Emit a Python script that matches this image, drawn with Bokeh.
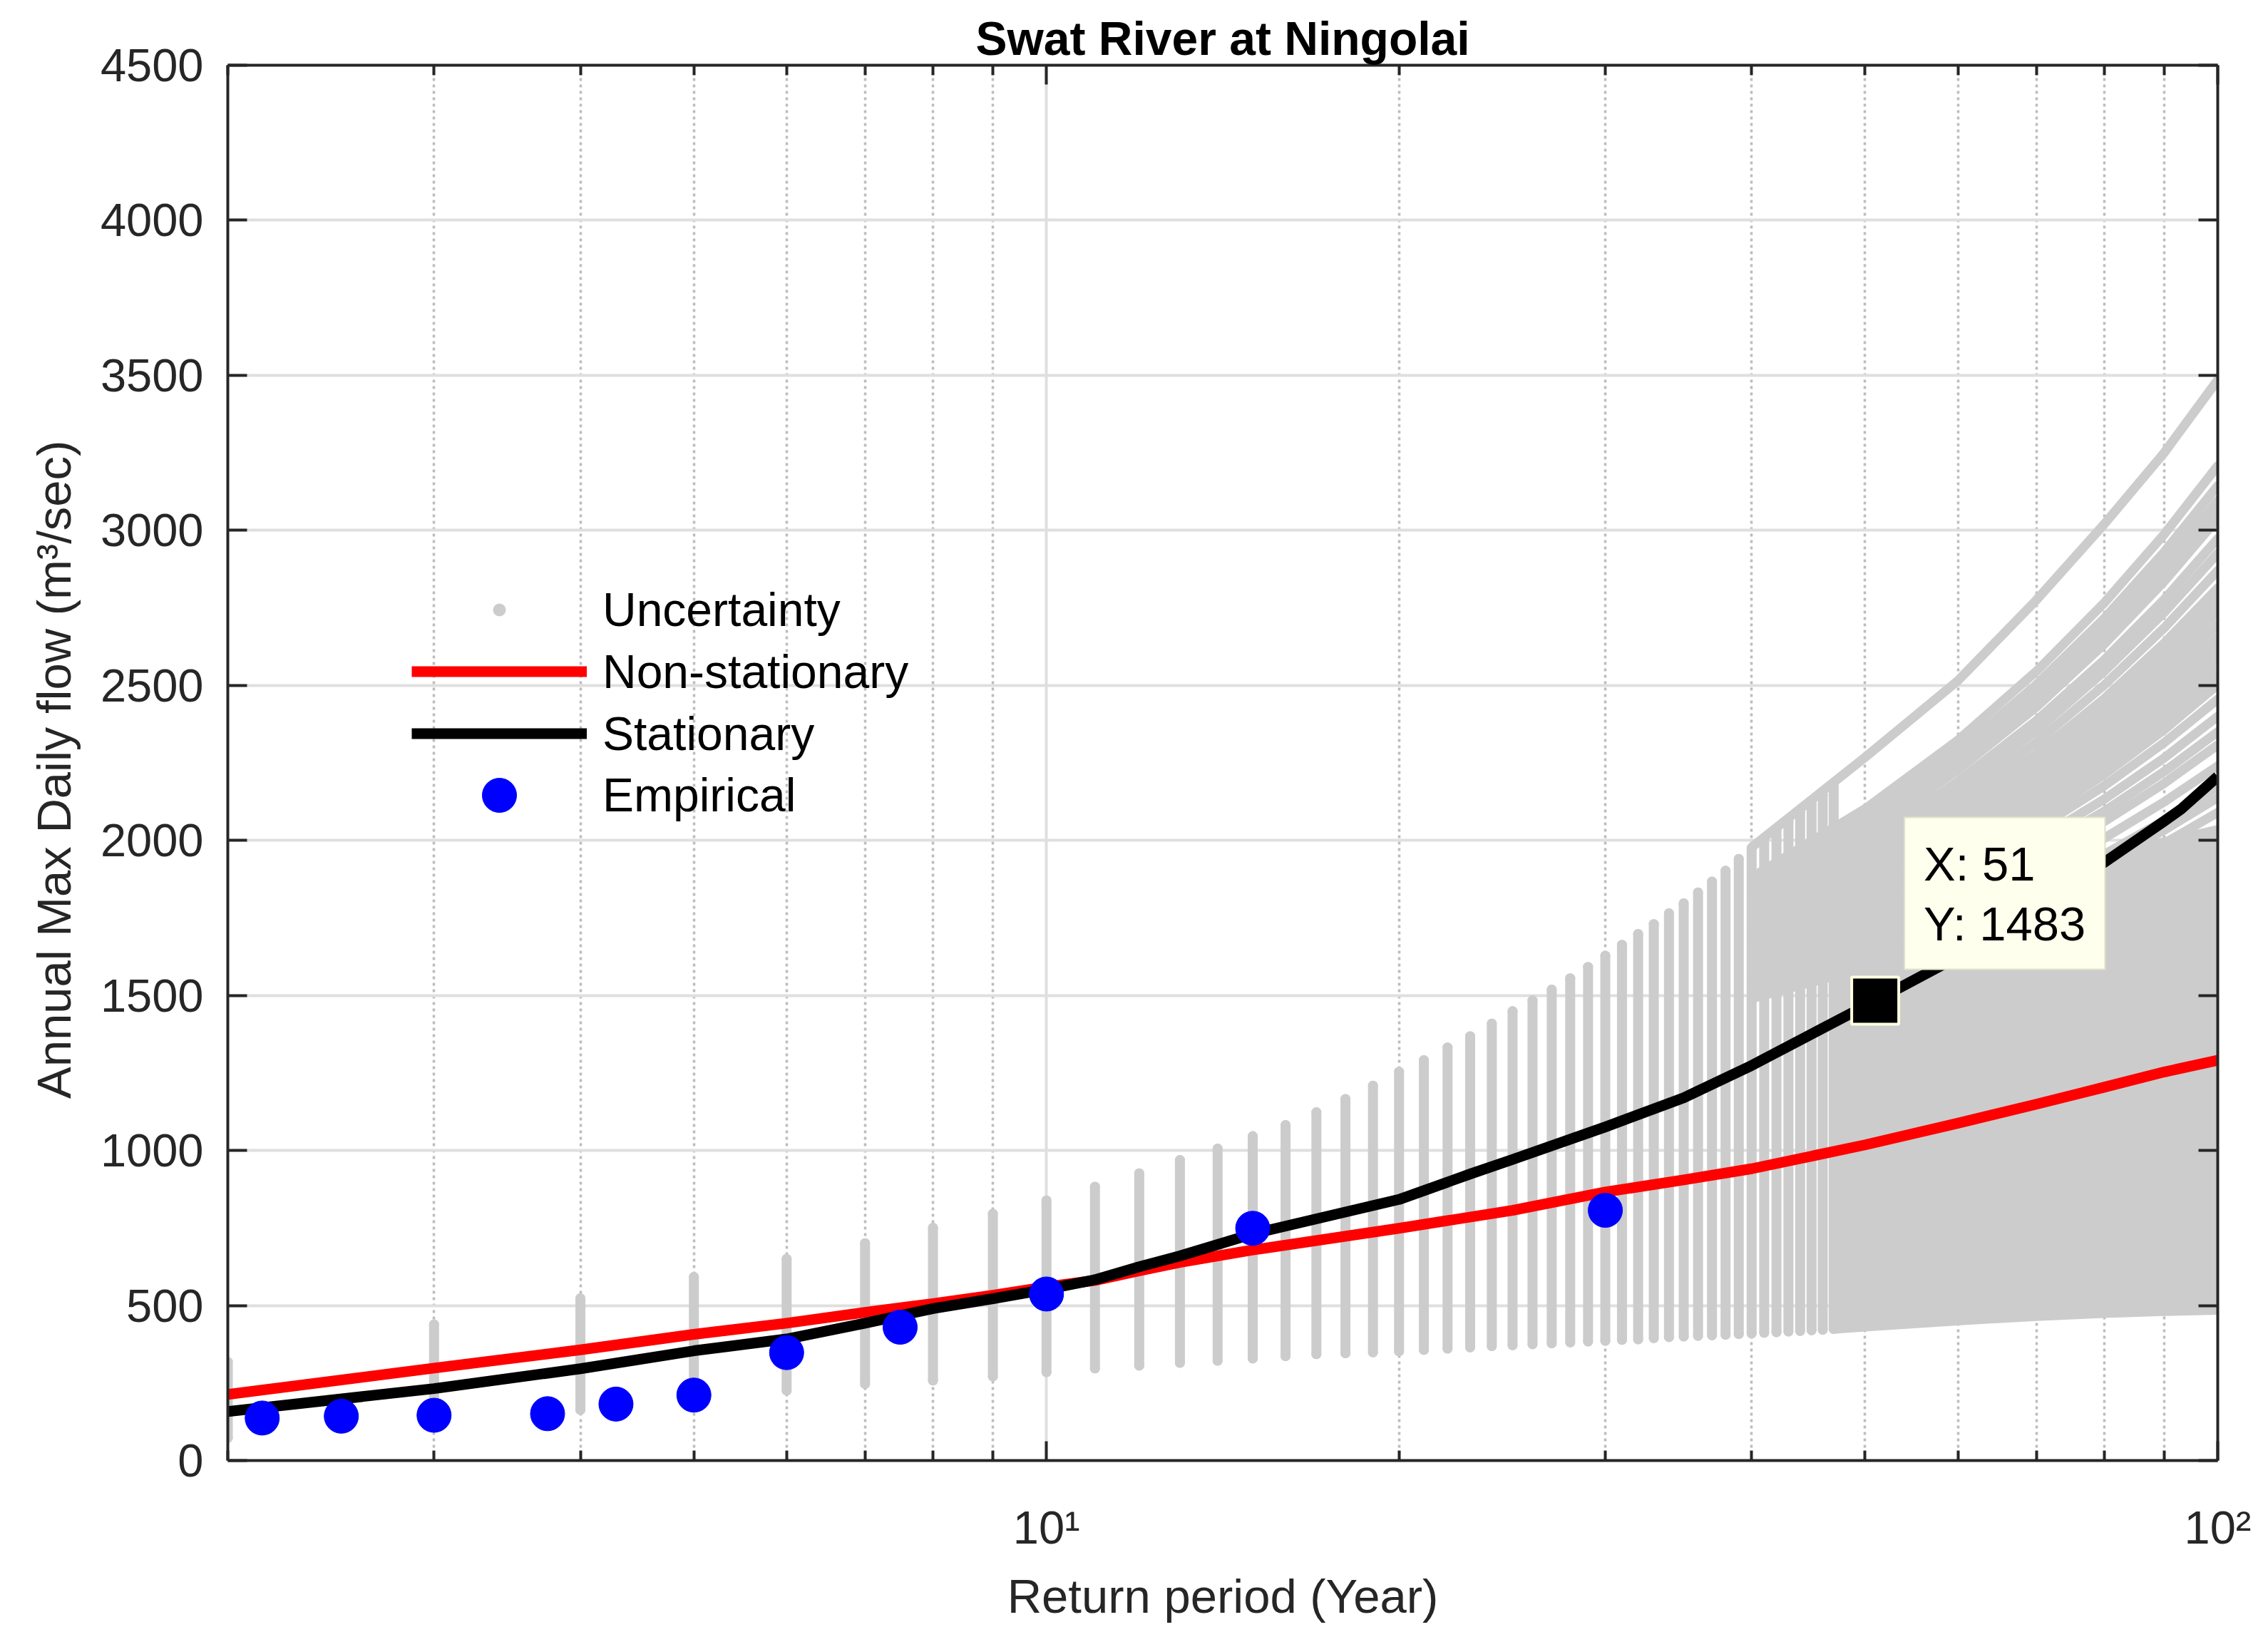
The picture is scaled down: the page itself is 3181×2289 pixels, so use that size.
from bokeh.plotting import figure
from bokeh.models import Range1d, FixedTicker, LogAxis, LinearAxis, Legend, LegendItem, Label
from bokeh.embed import file_html
from bokeh.resources import INLINE

FONT = "Liberation Sans"
AX = "#262626"
GRAY = "#CCCCCC"

title_text = "Swat River at Ningolai"
x_label = "Return period (Year)"
y_label = "Annual Max  Daily flow (m³/sec)"

# axis ticks
x_major = [10, 100]
x_minor = [2, 3, 4, 5, 6, 7, 8, 9, 20, 30, 40, 50, 60, 70, 80, 90]
x_tick_text = {10: "10¹", 100: "10²"}
y_major = [0, 500, 1000, 1500, 2000, 2500, 3000, 3500, 4000, 4500]

# Empirical (plotting positions)
emp_T = [2.14, 2.5, 3.0, 3.75, 4.29, 5.0, 6.0, 7.5, 10.0, 15.0, 30.0]
emp_Q = [137, 143, 146, 151, 182, 211, 348, 430, 537, 749, 807]

# Stationary fit
sta_T = [2, 3, 4, 5, 6, 7, 8, 9, 10, 11, 12, 13, 15, 20, 23, 25, 30, 35, 40, 51, 60, 70, 80, 90, 93, 100]
sta_Q = [158, 232, 296, 354, 392, 443, 490, 522, 552, 583, 625, 660, 731, 842, 924, 971, 1076, 1170, 1274, 1483, 1625, 1796, 1929, 2062, 2100, 2206]

# Non-stationary fit
ns_T = [2, 3, 4, 5, 6, 7, 8, 9, 10, 11, 12, 13, 15, 20, 25, 30, 35, 40, 50, 60, 70, 80, 90, 100]
ns_Q = [213, 298, 357, 407, 443, 478, 506, 533, 560, 581, 612, 639, 679, 749, 807, 866, 905, 941, 1018, 1088, 1149, 1204, 1253, 1291]

# Uncertainty: spread of the samples at each return period (2..47)
unc_T = list(range(2, 48))
unc_lo = [73, 120, 163, 200, 226, 247, 258, 271, 285, 297, 306, 315, 322, 329, 337, 343,
          346, 349, 352, 357, 361, 365, 369, 372, 375, 378, 381, 384, 386, 389, 391, 395,
          398, 400, 402, 404, 406, 408, 410, 412, 414, 416, 418, 420, 422, 424]
unc_hi = [318, 439, 523, 592, 650, 701, 751, 796, 839, 883, 926, 969, 1006, 1046, 1082, 1123,
          1166, 1209, 1254, 1291, 1332, 1368, 1409, 1449, 1484, 1519, 1555, 1592, 1628, 1663,
          1698, 1730, 1765, 1797, 1832, 1867, 1902, 1940, 1975, 2005, 2034, 2062, 2091, 2119,
          2147, 2175]

# Uncertainty: dense band for long return periods
tail_T = [47, 50, 60, 70, 80, 90, 100]
tail_lo = [409, 416, 436, 450, 460, 466, 470]
tail_hi = [1760, 1790, 1860, 1920, 1970, 2010, 2050]

# Uncertainty: individual sample curves fanning out above the dense band
fan_T = [40, 50, 60, 70, 80, 90, 100]
fan_top = [1978, 2268, 2515, 2775, 3020, 3250, 3485]
fan_Q = [
    [1881, 2102, 2323, 2545, 2766, 2987, 3208],
    [1859, 2073, 2287, 2502, 2716, 2930, 3144],
    [1842, 2051, 2260, 2469, 2678, 2887, 3096],
    [1832, 2038, 2243, 2449, 2655, 2861, 3067],
    [1822, 2025, 2227, 2430, 2633, 2835, 3038],
    [1799, 1995, 2190, 2386, 2582, 2777, 2973],
    [1782, 1973, 2163, 2354, 2545, 2735, 2926],
    [1763, 1947, 2132, 2316, 2501, 2685, 2870],
    [1743, 1922, 2100, 2279, 2457, 2636, 2814],
    [1730, 1904, 2079, 2253, 2427, 2602, 2776],
    [1717, 1887, 2057, 2228, 2398, 2568, 2738],
    [1702, 1868, 2033, 2199, 2365, 2530, 2696],
    [1688, 1849, 2010, 2172, 2333, 2494, 2655],
    [1674, 1831, 1988, 2146, 2303, 2460, 2617],
    [1661, 1814, 1967, 2120, 2273, 2426, 2579],
    [1647, 1796, 1945, 2094, 2242, 2391, 2540],
    [1634, 1779, 1923, 2068, 2213, 2357, 2502],
    [1618, 1757, 1897, 2036, 2176, 2315, 2455],
    [1598, 1732, 1865, 1999, 2133, 2266, 2400],
    [1581, 1709, 1837, 1966, 2094, 2222, 2350],
    [1566, 1690, 1813, 1937, 2061, 2184, 2308],
    [1542, 1658, 1775, 1891, 2007, 2124, 2240],
    [1519, 1628, 1737, 1846, 1955, 2064, 2173],
    [1507, 1612, 1717, 1823, 1928, 2033, 2138],
    [1490, 1590, 1690, 1790, 1890, 1990, 2090],
]

# Data tip
dt_x = 51
dt_y = 1483

p = figure(x_axis_type="log", x_range=Range1d(2, 100), y_range=Range1d(0, 4500),
           frame_width=2791, frame_height=1957,
           min_border_left=319, min_border_right=55, min_border_top=91, min_border_bottom=225,
           output_backend="svg", toolbar_location=None,
           background_fill_color="white", border_fill_color="white")
p.outline_line_color = None
bottom_ax = p.below[0]
left_ax = p.left[0]

# ---- uncertainty cloud
r_cols = p.segment(x0=unc_T, y0=unc_lo, x1=unc_T, y1=unc_hi, line_color=GRAY,
                   line_width=14, line_cap="round")
r_tail = p.varea(x=tail_T, y1=tail_lo, y2=tail_hi, fill_color=GRAY)
r_fan = p.multi_line(xs=[fan_T] * len(fan_Q), ys=fan_Q, line_color=GRAY, line_width=13,
                     line_cap="round", line_join="round")
r_fan_top = p.line(fan_T, fan_top, line_color=GRAY, line_width=13,
                   line_cap="round", line_join="round")
r_unc = p.scatter(x=unc_T + unc_T, y=unc_lo + unc_hi, marker="dot", size=56, color=GRAY)

# ---- fits and data
r_ns = p.line(ns_T, ns_Q, line_color="#FF0000", line_width=15, line_join="round")
r_st = p.line(sta_T, sta_Q, line_color="black", line_width=15, line_join="round")
r_emp = p.scatter(emp_T, emp_Q, marker="circle", size=48, color="#0000FF")
r_dt = p.scatter([dt_x], [dt_y], marker="square", size=66, fill_color="black",
                 line_color="#FFFFE0", line_width=4)

# ---- axes
xt = FixedTicker(ticks=x_major, minor_ticks=x_minor)
yt = FixedTicker(ticks=y_major, minor_ticks=[])
bottom_ax.ticker = xt
left_ax.ticker = yt
bottom_ax.major_label_overrides = x_tick_text

top_ax = LogAxis(ticker=xt, major_label_overrides={10: "", 100: ""})
right_ax = LinearAxis(ticker=yt, major_label_overrides={v: "" for v in y_major})
p.add_layout(top_ax, "above")
p.add_layout(right_ax, "right")

for ax in [bottom_ax, left_ax, top_ax, right_ax]:
    ax.axis_line_color = AX
    ax.axis_line_width = 4
    ax.major_tick_line_color = AX
    ax.major_tick_line_width = 4
    ax.minor_tick_line_color = AX
    ax.minor_tick_line_width = 4
    ax.major_tick_in = 27
    ax.major_tick_out = 0
    ax.minor_tick_in = 14
    ax.minor_tick_out = 0
    ax.major_label_text_font = FONT
    ax.major_label_text_font_size = "65px"
    ax.major_label_text_color = AX
for ax in [top_ax, right_ax]:
    ax.major_label_standoff = 0
    ax.major_label_text_font_size = "0px"

bottom_ax.major_label_standoff = 57
left_ax.major_label_standoff = 34
bottom_ax.axis_label = x_label
left_ax.axis_label = y_label
for ax, so in [(bottom_ax, 19), (left_ax, 25)]:
    ax.axis_label_text_font = FONT
    ax.axis_label_text_font_size = "67px"
    ax.axis_label_text_font_style = "normal"
    ax.axis_label_text_color = AX
    ax.axis_label_standoff = so

# ---- grids
for g in p.ygrid:
    g.grid_line_color = "#DFDFDF"
    g.grid_line_width = 4
for g in p.xgrid:
    g.grid_line_color = "#DFDFDF"
    g.grid_line_width = 4
    g.minor_grid_line_color = "#BDBDBD"
    g.minor_grid_line_width = 3.5
    g.minor_grid_line_dash = "4 5"

# ---- title
p.title.text = title_text
p.title.align = "center"
p.title.text_font = FONT
p.title.text_font_size = "66px"
p.title.text_font_style = "bold"
p.title.text_color = "black"
p.title.standoff = 2

# ---- legend (three stacked blocks so each marker gets its own glyph size)
leg_style = dict(glyph_width=246, label_height=20, spacing=0, padding=0, margin=0,
                 label_standoff=22, label_text_font=FONT, label_text_font_size="66px",
                 label_text_color="black", border_line_alpha=0, background_fill_alpha=0)
leg_u = Legend(items=[LegendItem(label="Uncertainty", renderers=[r_unc])],
               location=(258, 1103), glyph_height=180, **leg_style)
leg_l = Legend(items=[LegendItem(label="Non-stationary", renderers=[r_ns]),
                      LegendItem(label="Stationary", renderers=[r_st])],
               location=(258, 976), glyph_height=87, **leg_style)
leg_e = Legend(items=[LegendItem(label="Empirical", renderers=[r_emp])],
               location=(258, 873), glyph_height=120, **leg_style)
for lg in (leg_u, leg_l, leg_e):
    p.add_layout(lg, "center")

# ---- data tip
tip = Label(x=dt_x, y=dt_y, x_offset=41, y_offset=44, text=f"X: {dt_x}\nY: {dt_y}",
            text_font=FONT, text_font_size="67px", text_color="black",
            text_align="left", text_baseline="bottom", text_line_height=1.12,
            background_fill_color="#FFFFEE", border_line_color="#E2E2CC", border_line_width=2,
            padding=27)
p.add_layout(tip)

open("out.html", "w").write(file_html(p, INLINE))
